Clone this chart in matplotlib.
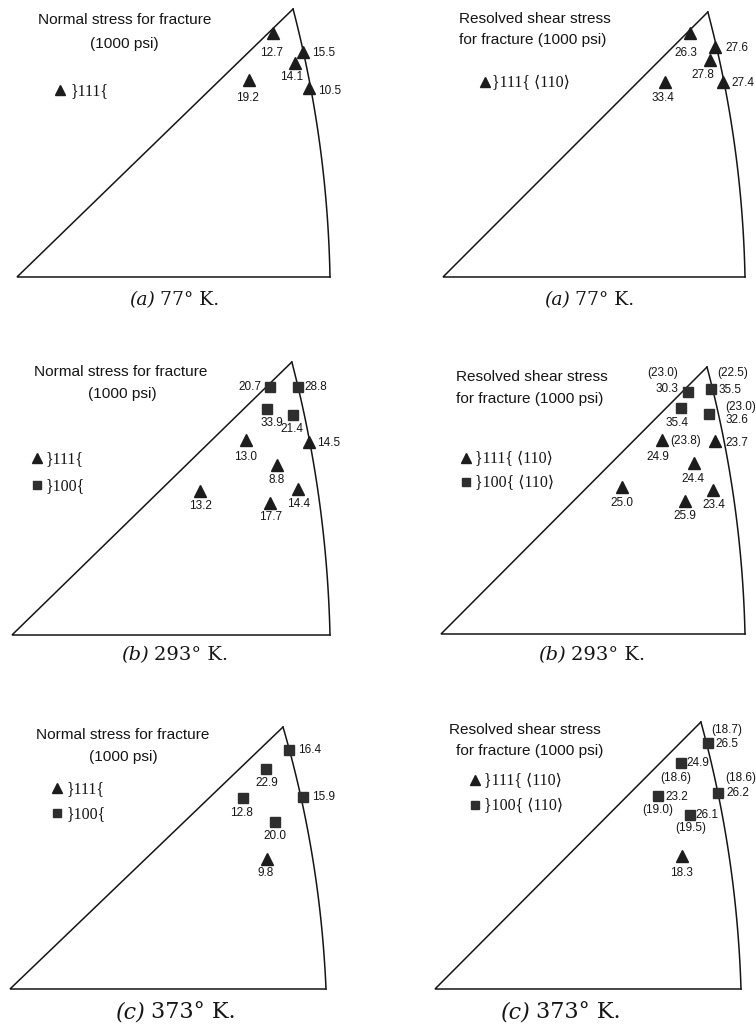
import matplotlib
matplotlib.use('Agg')
import matplotlib.pyplot as plt
from matplotlib import font_manager
import numpy as np

# ---------------- data (orientation inside the stereographic triangle) ----------------
# u: fraction of triangle width from the [001] corner, v: fraction of height
# (a) 77 K -- normal stress for fracture (1000 psi)
a_normal_u = [0.818, 0.914, 0.888, 0.741, 0.933]
a_normal_v = [0.910, 0.840, 0.799, 0.735, 0.705]
a_normal_plane = ['111', '111', '111', '111', '111']
a_normal_vals = ['12.7', '15.5', '14.1', '19.2', '10.5']

# (a) 77 K -- resolved shear stress for fracture (1000 psi)
a_shear_u = [0.818, 0.901, 0.884, 0.927, 0.735]
a_shear_v = [0.921, 0.868, 0.819, 0.736, 0.736]
a_shear_plane = ['111', '111', '111', '111', '111']
a_shear_vals = ['26.3', '27.6', '27.8', '27.4', '33.4']
a_shear_alt = [None, None, None, None, None]

# (b) 293 K -- normal stress
b_normal_u = [0.811, 0.899, 0.802, 0.884, 0.934, 0.736, 0.833, 0.899, 0.811, 0.591]
b_normal_v = [0.908, 0.908, 0.828, 0.806, 0.707, 0.714, 0.623, 0.535, 0.484, 0.527]
b_normal_plane = ['100', '100', '100', '100', '111', '111', '111', '111', '111', '111']
b_normal_vals = ['20.7', '28.8', '33.9', '21.4', '14.5', '13.0', '8.8', '14.4', '17.7', '13.2']

# (b) 293 K -- resolved shear stress
b_shear_u = [0.812, 0.888, 0.789, 0.882, 0.901, 0.727, 0.832, 0.895, 0.803, 0.595]
b_shear_v = [0.906, 0.918, 0.846, 0.824, 0.723, 0.727, 0.640, 0.539, 0.498, 0.551]
b_shear_plane = ['100', '100', '100', '100', '111', '111', '111', '111', '111', '111']
b_shear_vals = ['30.3', '35.5', '35.4', '32.6', '23.7', '24.9', '24.4', '23.4', '25.9', '25.0']
b_shear_alt = ['23.0', '22.5', None, '23.0', None, '23.8', None, None, None, None]

# (c) 373 K -- normal stress
c_normal_u = [0.883, 0.810, 0.927, 0.737, 0.839, 0.813]
c_normal_v = [0.912, 0.840, 0.733, 0.729, 0.637, 0.496]
c_normal_plane = ['100', '100', '100', '100', '100', '111']
c_normal_vals = ['16.4', '22.9', '15.9', '12.8', '20.0', '9.8']

# (c) 373 K -- resolved shear stress
c_shear_u = [0.892, 0.804, 0.925, 0.729, 0.833, 0.807]
c_shear_v = [0.921, 0.846, 0.734, 0.723, 0.652, 0.498]
c_shear_plane = ['100', '100', '100', '100', '100', '111']
c_shear_vals = ['26.5', '24.9', '26.2', '23.2', '26.1', '18.3']
c_shear_alt = ['18.7', '18.6', '18.6', '19.0', '19.5', None]

# ---------------- fonts ----------------
_names = {f.name for f in font_manager.fontManager.ttflist}
if 'Liberation Sans Narrow' in _names:
    SANS = ['Liberation Sans Narrow', 'DejaVu Sans']
    SANS_SCALE = 1.0
else:
    SANS = ['Liberation Sans', 'DejaVu Sans']
    SANS_SCALE = 0.96
SERIF = ['Liberation Serif', 'DejaVu Serif', 'DejaVu Sans']
CAP = ['DejaVu Serif']

TITLE_FS = 11.5 * SANS_SCALE
LABEL_FS = 8.8 * SANS_SCALE
LEG_FS = 11.5

# ---------------- layout / style ----------------
fig = plt.figure(figsize=(7.56, 10.24), dpi=100)
ax = fig.add_axes([0, 0, 1, 1])
ax.set_xlim(0, 756)
ax.set_ylim(1024, 0)
ax.axis('off')

INK = '#151515'
MARK = {'111': dict(marker='^', ms=8.2, color='#1c1c1c'),
        '100': dict(marker='s', ms=7.0, color='#2e2e2e')}

# triangle geometry per panel: bottom-left x, y, width, height, apex fraction
panels = [
    dict(geo=(17, 277, 313, 268, 0.882), u=a_normal_u, v=a_normal_v, p=a_normal_plane, vals=a_normal_vals,
         alt=None,
         lab=[(-1, 20, 'c'), (9, 1, 'l'), (-3, 14, 'c'), (-1, 18, 'c'), (9, 3, 'l')],
         altlab=None,
         title=[('Normal stress for fracture', 125, 20), ('(1000 psi)', 124, 44)],
         leg=[('111', 60, 90, '}111{', 71)],
         cap=('(a)', '77° K.', 157, 300, 13.5)),
    dict(geo=(443, 277, 302, 265, 0.877), u=a_shear_u, v=a_shear_v, p=a_shear_plane, vals=a_shear_vals,
         alt=a_shear_alt,
         lab=[(-4, 20, 'c'), (10, 1, 'l'), (-7, 15, 'c'), (8, 1, 'l'), (-2, 16, 'c')],
         altlab=[None] * 5,
         title=[('Resolved shear stress', 535, 19), ('for fracture (1000 psi)', 533, 40)],
         leg=[('111', 485, 82, '}111{ ⟨110⟩', 492)],
         cap=('(a)', '77° K.', 572, 300, 13.5)),
    dict(geo=(12, 635, 318, 273, 0.880), u=b_normal_u, v=b_normal_v, p=b_normal_plane, vals=b_normal_vals,
         alt=None,
         lab=[(-8, 0, 'r'), (7, 0, 'l'), (5, 14, 'c'), (-1, 14, 'c'), (8, 1, 'l'),
              (-1, 17, 'c'), (0, 15, 'c'), (1, 15, 'c'), (1, 14, 'c'), (1, 15, 'c')],
         altlab=None,
         title=[('Normal stress for fracture', 121, 372), ('(1000 psi)', 122, 394)],
         leg=[('111', 37, 458, '}111{', 46), ('100', 37, 485, '}100{', 46)],
         cap=('(b)', '293° K.', 151, 655, 14)),
    dict(geo=(441, 634, 304, 267, 0.875), u=b_shear_u, v=b_shear_v, p=b_shear_plane, vals=b_shear_vals,
         alt=b_shear_alt,
         lab=[(-9, -3, 'r'), (8, 1, 'l'), (-4, 15, 'c'), (16, 6, 'l'), (11, 2, 'l'),
              (-4, 17, 'c'), (-1, 16, 'c'), (1, 15, 'c'), (0, 15, 'c'), (0, 16, 'c')],
         altlab=[(-10, -19, 'r'), (6, -16, 'l'), None, (16, -7, 'l'), None,
                 (8, 1, 'l'), None, None, None, None],
         title=[('Resolved shear stress', 532, 377), ('for fracture (1000 psi)', 530, 399)],
         leg=[('111', 466, 458, '}111{ ⟨110⟩', 475), ('100', 466, 482, '}100{ ⟨110⟩', 475)],
         cap=('(b)', '293° K.', 568, 655, 14)),
    dict(geo=(10, 989, 316, 262, 0.864), u=c_normal_u, v=c_normal_v, p=c_normal_plane, vals=c_normal_vals,
         alt=None,
         lab=[(9, 0, 'l'), (1, 14, 'c'), (9, 0, 'l'), (-1, 15, 'c'), (0, 14, 'c'), (-1, 14, 'c')],
         altlab=None,
         title=[('Normal stress for fracture', 123, 735), ('(1000 psi)', 123, 757)],
         leg=[('111', 57, 788, '}111{', 67), ('100', 57, 813, '}100{', 67)],
         cap=('(c)', '373° K.', 148, 1012, 16)),
    dict(geo=(435, 989, 306, 267, 0.869), u=c_shear_u, v=c_shear_v, p=c_shear_plane, vals=c_shear_vals,
         alt=c_shear_alt,
         lab=[(7, 1, 'l'), (5, 0, 'l'), (8, 0, 'l'), (7, 1, 'l'), (6, 0, 'l'), (0, 17, 'c')],
         altlab=[(3, -13, 'l'), (-5, 15, 'c'), (7, -15, 'l'), (0, 14, 'c'), (1, 13, 'c'), None],
         title=[('Resolved shear stress', 525, 730), ('for fracture (1000 psi)', 530, 751)],
         leg=[('111', 475, 780, '}111{ ⟨110⟩', 484), ('100', 475, 805, '}100{ ⟨110⟩', 484)],
         cap=('(c)', '373° K.', 533, 1012, 16)),
]

HA = {'c': 'center', 'l': 'left', 'r': 'right'}
SAG = 8.0  # outward bulge of the great-circle side, px

for P in panels:
    x0, y0, W, H, tx = P['geo']
    top = np.array([x0 + tx * W, y0 - H])
    br = np.array([x0 + W, y0])
    bl = np.array([x0, y0])
    # straight sides
    ax.plot([top[0], bl[0], br[0]], [top[1], bl[1], br[1]], color=INK, lw=1.1,
            solid_joinstyle='miter', zorder=2)
    # curved side
    t = np.linspace(0, 1, 80)
    ch = br - top
    L = np.hypot(*ch)
    n = np.array([ch[1], -ch[0]]) / L
    pts = top[None, :] + t[:, None] * ch[None, :] + (4 * SAG * t * (1 - t))[:, None] * n[None, :]
    ax.plot(pts[:, 0], pts[:, 1], color=INK, lw=1.1, zorder=2)

    # data points
    px = x0 + np.asarray(P['u']) * W
    py = y0 - np.asarray(P['v']) * H
    for i, (xx, yy) in enumerate(zip(px, py)):
        st = MARK[P['p'][i]]
        ax.plot([xx], [yy], linestyle='none', marker=st['marker'], ms=st['ms'],
                color=st['color'], mec=st['color'], zorder=3)
        dx, dy, h = P['lab'][i]
        ax.text(xx + dx, yy + dy, P['vals'][i], ha=HA[h], va='center',
                fontsize=LABEL_FS, family=SANS, color=INK, zorder=4)
        if P['alt'] is not None and P['alt'][i] is not None:
            dx, dy, h = P['altlab'][i]
            ax.text(xx + dx, yy + dy, '(' + P['alt'][i] + ')', ha=HA[h], va='center',
                    fontsize=LABEL_FS, family=SANS, color=INK, zorder=4)

    # title
    for s, cx, cy in P['title']:
        ax.text(cx, cy, s, ha='center', va='center', fontsize=TITLE_FS, family=SANS, color=INK)

    # legend
    for kind, mx, my, s, tx0 in P['leg']:
        st = MARK[kind]
        ax.plot([mx], [my], linestyle='none', marker=st['marker'], ms=st['ms'] * 0.9,
                color=st['color'], mec=st['color'])
        ax.text(tx0, my + 1, s, ha='left', va='center', fontsize=LEG_FS, family=SERIF, color=INK)

    # caption
    lbl, temp, sx, cy, fs = P['cap']
    ax.text(sx - 2, cy, lbl, ha='right', va='center', fontsize=fs, family=CAP,
            style='italic', color=INK)
    ax.text(sx + 3, cy, temp, ha='left', va='center', fontsize=fs, family=CAP, color=INK)

fig.savefig('out.png', dpi=100, facecolor='white')
